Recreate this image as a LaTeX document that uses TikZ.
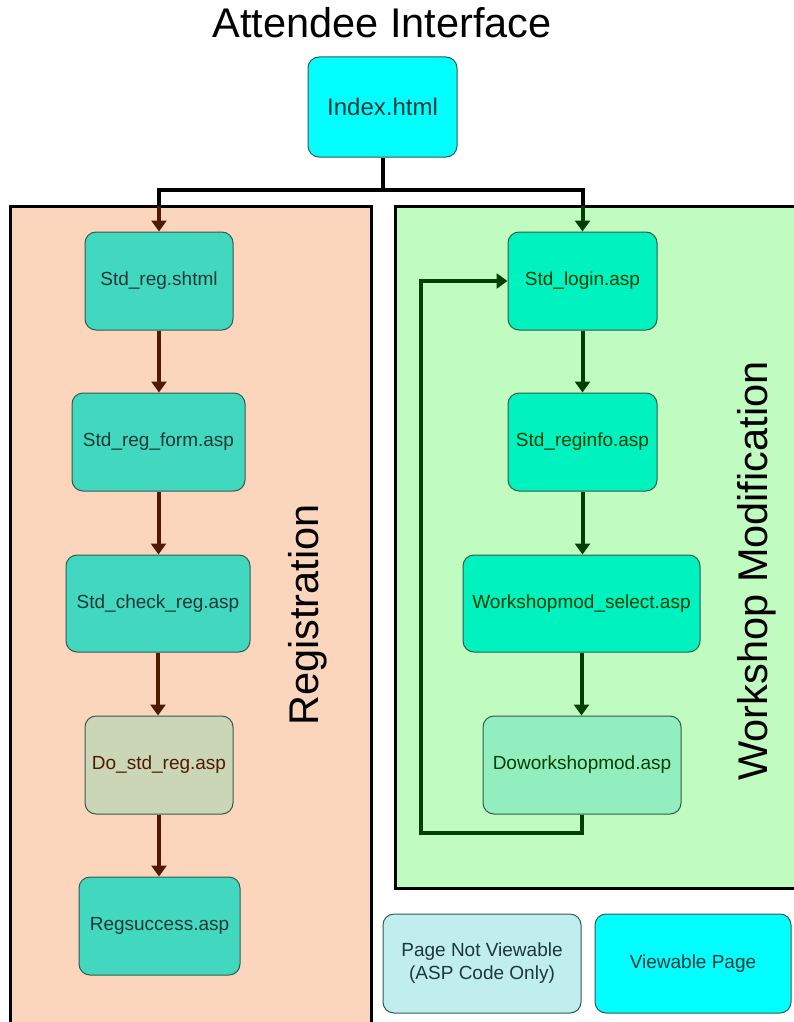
\documentclass[tikz,border=0pt]{standalone}
\usepackage{fontspec}
\setmainfont{Liberation Sans}
\usetikzlibrary{arrows.meta}
\definecolor{peach}{RGB}{252,214,188}
\definecolor{lgreen}{RGB}{192,252,192}
\definecolor{cyanbox}{RGB}{0,255,255}
\definecolor{turq}{RGB}{66,216,192}
\definecolor{spring}{RGB}{0,242,190}
\definecolor{dostd}{RGB}{202,214,182}
\definecolor{dows}{RGB}{146,238,190}
\definecolor{legpat}{RGB}{192,238,238}
\definecolor{brownar}{RGB}{80,26,0}
\definecolor{greenar}{RGB}{0,64,0}
\definecolor{bordc}{RGB}{50,90,80}
\definecolor{txtc}{RGB}{30,55,55}
\tikzset{
  panel/.style={draw=black, line width=3pt},
  pagebox/.style={draw=bordc, line width=1pt, rounded corners=11pt, align=center, font=\fontsize{19}{23}\selectfont, text=txtc},
  conn/.style={line width=4pt},
  brownarrow/.style={conn, draw=brownar, -{Triangle[width=15pt,length=11pt]}},
  greenarrow/.style={conn, draw=greenar, -{Triangle[width=15pt,length=11pt]}},
}
\begin{document}
\begin{tikzpicture}[x=1pt,y=-1pt]
\useasboundingbox (0,0) rectangle (794,1022);
% panels
\fill[peach] (10,206) rectangle (371,1030);
\draw[panel] (10,1030) -- (10,206) -- (371,206) -- (371,1030);
\fill[lgreen] (395,206) rectangle (800,888);
\draw[panel] (800,206) -- (395,206) -- (395,888) -- (800,888);
% title
\node (title) at (382,23) {\fontsize{41.5}{46}\selectfont Attendee Interface};
\node[rotate=90] (reglab) at (308,615) {\fontsize{41.5}{46}\selectfont Registration};
\node[rotate=90] (wslab) at (757,571) {\fontsize{41.5}{46}\selectfont Workshop Modification};
% boxes
\node[pagebox, fill=cyanbox, minimum width=149pt, minimum height=100pt, font=\fontsize{24}{28}\selectfont] (index) at (382.5,107) {Index.html};
\node[pagebox, fill=turq, minimum width=148pt, minimum height=98pt] (sreg) at (159,281) {Std\_reg.shtml};
\node[pagebox, fill=turq, minimum width=173pt, minimum height=98pt] (sregform) at (158.5,442) {Std\_reg\_form.asp};
\node[pagebox, fill=turq, minimum width=184pt, minimum height=97pt] (scheck) at (158,603.5) {Std\_check\_reg.asp};
\node[pagebox, fill=dostd, minimum width=148pt, minimum height=98pt, text=brownar] (dostdreg) at (159,765) {Do\_std\_reg.asp};
\node[pagebox, fill=turq, minimum width=161pt, minimum height=98pt] (regsucc) at (159.5,926) {Regsuccess.asp};
\node[pagebox, fill=spring, minimum width=149pt, minimum height=98pt, text=greenar] (login) at (582.5,281) {Std\_login.asp};
\node[pagebox, fill=spring, minimum width=149pt, minimum height=98pt, text=greenar] (reginfo) at (582.5,442) {Std\_reginfo.asp};
\node[pagebox, fill=spring, minimum width=237pt, minimum height=97pt, text=greenar] (wsel) at (581.5,603.5) {Workshopmod\_select.asp};
\node[pagebox, fill=dows, minimum width=198pt, minimum height=98pt, text=greenar] (dows) at (582,765) {Doworkshopmod.asp};
\node[pagebox, fill=legpat, minimum width=198pt, minimum height=99pt] (legnv) at (482,963.5) {Page Not Viewable\\(ASP Code Only)};
\node[pagebox, fill=cyanbox, minimum width=196pt, minimum height=99pt] (legv) at (693,963.5) {Viewable Page};
% connectors
\coordinate (split) at (382.5,190);
\coordinate (lt) at (159,190);
\coordinate (rt) at (582.5,190);
\coordinate (lp) at (159,206);
\coordinate (rp) at (582.5,206);
\draw[conn] (index.south) -- (split);
\draw[conn, line cap=rect] (lt) -- (rt);
\draw[conn] (lt) -- (lp);
\draw[conn] (rt) -- (rp);
\draw[brownarrow] (lp) -- (sreg.north);
\draw[greenarrow] (rp) -- (login.north);
\draw[brownarrow] (sreg.south) -- (sreg.south |- sregform.north);
\draw[brownarrow] (sregform.south) -- (sregform.south |- scheck.north);
\draw[brownarrow] (scheck.south) -- (scheck.south |- dostdreg.north);
\draw[brownarrow] (dostdreg.south) -- (dostdreg.south |- regsucc.north);
\draw[greenarrow] (login.south) -- (reginfo.north);
\draw[greenarrow] (reginfo.south) -- (reginfo.south |- wsel.north);
\draw[greenarrow] (wsel.south) -- (wsel.south |- dows.north);
\coordinate (fb1) at (582,833);
\coordinate (fb2) at (421,833);
\coordinate (fb3) at (421,281);
\draw[greenarrow] (dows.south) -- (fb1) -- (fb2) -- (fb3) -- (login.west);
\end{tikzpicture}
\end{document}
